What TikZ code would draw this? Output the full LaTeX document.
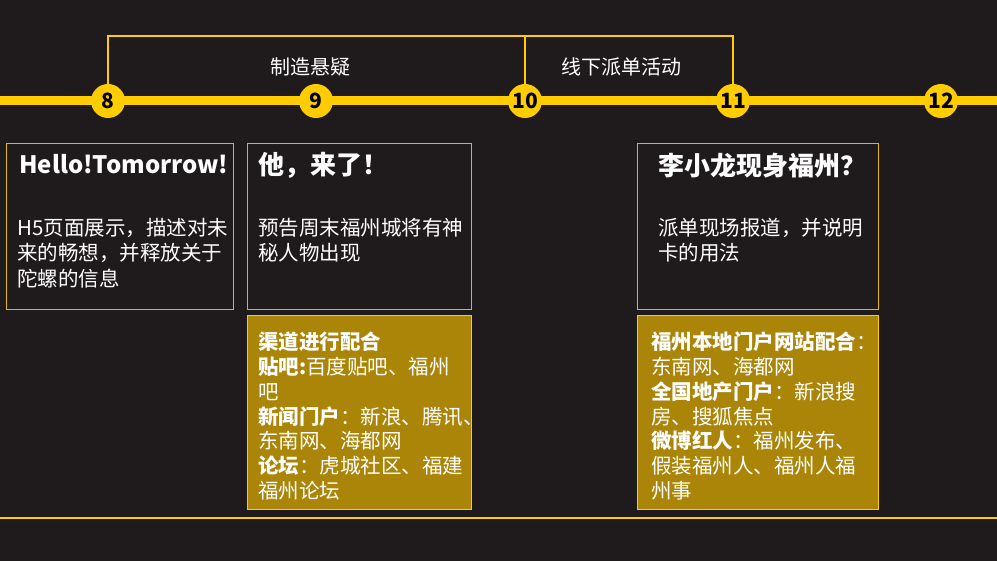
\documentclass[tikz,border=0pt]{standalone}
\usepackage{fontspec}
\setmainfont{Noto Sans CJK SC}
\definecolor{bgdark}{RGB}{31,26,27}
\definecolor{tlyellow}{RGB}{255,204,0}
\definecolor{boxgold}{RGB}{170,133,8}
\begin{document}
\begin{tikzpicture}[x=1pt,y=-1pt,
  dot/.style={circle,fill=tlyellow,minimum size=34pt,inner sep=0pt,text=black,font=\fontsize{21}{21}\selectfont\bfseries},
  card/.style={draw=tlyellow!90!black,line width=0.8pt,fill=bgdark,anchor=north west,inner sep=0pt},
  goldcard/.style={card,draw=tlyellow,fill=boxgold},
  heading/.style={anchor=west,inner sep=0pt,text=white,font=\fontsize{26}{30}\selectfont\bfseries},
  body/.style={anchor=north west,inner sep=0pt,text=white,align=left,font=\fontsize{20.5}{25.5}\selectfont},
  phase/.style={text=white,font=\fontsize{20}{24}\selectfont}]
  \useasboundingbox (0,0) rectangle (997,561);
  \fill[bgdark] (0,0) rectangle (997,561);
  \coordinate (tlstart) at (0,101);
  \coordinate (tlend) at (997,101);
  \draw[tlyellow,line width=9pt] (tlstart) -- (tlend);
  \foreach \n/\x in {8/108,9/316,10/525,11/733,12/941}
    \node[dot] (t\n) at (\x,101) {\n};
  \coordinate (brk) at (420,36);
  \draw[tlyellow,line width=2.2pt] (t8.north) |- (brk) -| (t11.north);
  \draw[tlyellow,line width=2.2pt] (t10.north) -- (t10.north |- brk);
  \node[phase] (suspense) at (310,67) {制造悬疑};
  \node[phase] (offline) at (621,67) {线下派单活动};

  \node[card,minimum width=227,minimum height=166] (hello) at (6,143) {};
  \node[card,minimum width=224,minimum height=166] (he) at (247,143) {};
  \node[goldcard,minimum width=224,minimum height=194] (channel) at (247,315) {};
  \node[card,minimum width=241,minimum height=166] (bruce) at (637,143) {};
  \node[goldcard,minimum width=241,minimum height=194] (media) at (637,315) {};

  \node[heading,font=\fontsize{24}{30}\selectfont\bfseries] (hellotitle) at (19,164) {Hello!Tomorrow!};
  \node[heading] (hetitle) at (258,165) {他，来了！};
  \node[heading] (brucetitle) at (658,166) {李小龙现身福州？};
  \node[body] (hellotext) at (17,218) {H5页面展示，描述对未\\来的畅想，并释放关于\\陀螺的信息};
  \node[body] (hetext) at (258,218) {预告周末福州城将有神\\秘人物出现};
  \node[body] (brucetext) at (658,218) {派单现场报道，并说明\\卡的用法};
  \node[body,font=\fontsize{20.5}{24.7}\selectfont] (channeltext) at (258,332)
    {\textbf{渠道进行配合}\\\textbf{贴吧:}百度贴吧、福州\\吧\\\textbf{新闻门户}：新浪、腾讯、\\东南网、海都网\\\textbf{论坛}：虎城社区、福建\\福州论坛};
  \node[body,font=\fontsize{20.5}{24.7}\selectfont] (mediatext) at (651,332)
    {\textbf{福州本地门户网站配合}：\\东南网、海都网\\\textbf{全国地产门户}：新浪搜\\房、搜狐焦点\\\textbf{微博红人}：福州发布、\\假装福州人、福州人福\\州事};

  \coordinate (baseleft) at (0,518);
  \coordinate (baseright) at (997,518);
  \draw[tlyellow,line width=1.2pt] (baseleft) -- (baseright);
\end{tikzpicture}
\end{document}
